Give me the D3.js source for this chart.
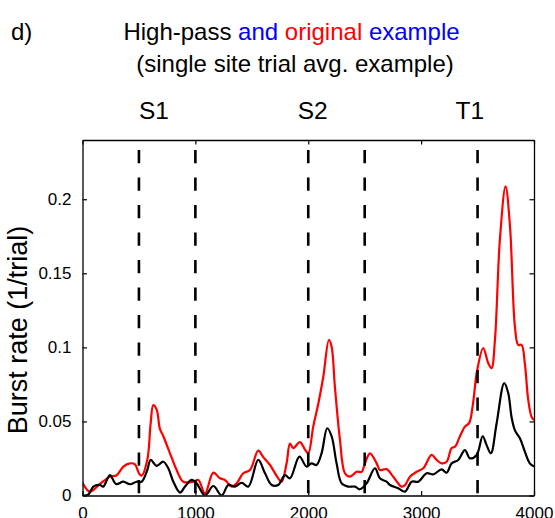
<!DOCTYPE html>
<html><head><meta charset="utf-8">
<script src="https://cdn.jsdelivr.net/npm/d3@7"></script>
<style>
html,body{margin:0;padding:0;background:#fff;}
svg{display:block;font-family:"Liberation Sans",Arial,sans-serif;}
</style></head>
<body>
<svg id="chart" width="555" height="518"></svg>
<script>
// ---- data ----
const originalTime = [0,66,155,243,300,362,420,465,500,524,574,604,627,657,686,716,775,834,893,981,1026,1085,1159,1218,1262,1321,1366,1424,1484,1557,1601,1661,1734,1764,1808,1838,1867,1926,1971,2000,2044,2089,2133,2183,2207,2236,2281,2325,2369,2429,2473,2502,2547,2606,2635,2694,2753,2827,2857,2901,2960,3019,3093,3137,3182,3226,3270,3300,3344,3388,3426,3456,3477,3492,3550,3595,3624,3654,3698,3748,3787,3831,3860,3890,3919,3949,3979,4000];
const originalRate = [0.0086,0.0026,0.0078,0.0127,0.0135,0.0195,0.0217,0.021,0.015,0.0134,0.024,0.0488,0.061,0.058,0.045,0.040,0.0285,0.0172,0.0093,0.0093,0.0105,0.0015,0.0154,0.0116,0.0105,0.006,0.0082,0.015,0.0172,0.0303,0.026,0.0206,0.0116,0.0093,0.0217,0.035,0.032,0.036,0.031,0.0285,0.0465,0.062,0.080,0.105,0.1005,0.0735,0.0375,0.015,0.0127,0.016,0.016,0.0217,0.0285,0.0217,0.0172,0.0178,0.0127,0.006,0.007,0.0127,0.016,0.0184,0.0274,0.024,0.0217,0.0228,0.032,0.033,0.040,0.0465,0.049,0.060,0.0735,0.0826,0.0995,0.0893,0.086,0.105,0.173,0.2087,0.182,0.114,0.1017,0.1017,0.089,0.0645,0.053,0.051];
const highpassTime = [0,50,96,155,184,243,297,362,420,480,524,574,604,657,716,760,805,864,908,967,1011,1085,1159,1233,1292,1351,1410,1469,1557,1617,1676,1734,1794,1838,1922,1985,2029,2073,2118,2168,2207,2251,2296,2355,2414,2458,2517,2591,2635,2694,2724,2797,2857,2916,2975,3049,3108,3182,3226,3270,3329,3388,3432,3492,3545,3580,3618,3669,3736,3772,3801,3831,3875,3919,3963,4000];
const highpassRate = [0.0,0.0005,0.006,0.0071,0.006,0.0138,0.0078,0.0093,0.0076,0.0093,0.0093,0.0172,0.024,0.020,0.0228,0.0184,0.0093,0.002,0.006,0.0105,0.0082,0.0,0.0064,0.0,0.0071,0.006,0.0086,0.006,0.024,0.015,0.0071,0.0071,0.0138,0.0116,0.0262,0.0195,0.0217,0.0206,0.0285,0.0454,0.040,0.0217,0.0082,0.006,0.006,0.0042,0.0082,0.0184,0.0116,0.0093,0.0071,0.0049,0.0026,0.0093,0.0093,0.015,0.0143,0.0177,0.0154,0.0217,0.024,0.0307,0.0251,0.0274,0.040,0.034,0.0285,0.0488,0.0758,0.069,0.053,0.044,0.0386,0.0296,0.0217,0.0195];
const eventLines = [500,1000,2000,2500,3500];
const eventLabels = ["S1","S2","T1"];
const eventLabelTime = [633,2040,3432];
const xTicks = [0,1000,2000,3000,4000];
const xTickLabels = ["0","1000","2000","3000","4000"];
const yTicks = [0,0.05,0.1,0.15,0.2];
const yTickLabels = ["0","0.05","0.1","0.15","0.2"];

// ---- layout ----
const svg = d3.select("#chart");
const L = 82.5, R = 534, T = 140, B = 495.5;
const x = d3.scaleLinear().domain([0,4000]).range([L,R]);
const y = d3.scaleLinear().domain([0,0.24]).range([B,T]);

svg.append("defs").append("clipPath").attr("id","clip")
  .append("rect").attr("x",L).attr("y",T).attr("width",R-L).attr("height",B-T);

// titles
svg.append("text").attr("x",11).attr("y",40).attr("font-size",24).text("d)");
const t1 = svg.append("text").attr("x",291.5).attr("y",40).attr("font-size",24).attr("text-anchor","middle");
t1.append("tspan").attr("fill","#000").text("High-pass ");
t1.append("tspan").attr("fill","#0000ff").text("and ");
t1.append("tspan").attr("fill","#ff0000").text("original ");
t1.append("tspan").attr("fill","#0000ff").text("example");
svg.append("text").attr("x",295).attr("y",72).attr("font-size",24).attr("text-anchor","middle")
  .text("(single site trial avg. example)");

// event labels
svg.selectAll("text.ev").data(eventLabels).enter().append("text").attr("class","ev")
  .attr("x",(d,i)=>x(eventLabelTime[i])).attr("y",118.5).attr("font-size",24.5)
  .attr("text-anchor","middle").text(d=>d);

// y label
svg.append("text").attr("transform",`translate(27,330) rotate(-90)`)
  .attr("font-size",27).attr("text-anchor","middle").text("Burst rate (1/trial)");

// curves
const g = svg.append("g").attr("clip-path","url(#clip)");
const line = d3.line().x(d=>x(d[0])).y(d=>y(d[1])).curve(d3.curveCatmullRom.alpha(0.5));
g.append("path").datum(d3.zip(originalTime, originalRate)).attr("d",line)
  .attr("fill","none").attr("stroke","#ff0000").attr("stroke-width",2.2).attr("stroke-linejoin","round");
g.append("path").datum(d3.zip(highpassTime, highpassRate)).attr("d",line)
  .attr("fill","none").attr("stroke","#000").attr("stroke-width",2.2).attr("stroke-linejoin","round");

// dashed event lines
svg.selectAll("line.ev").data(eventLines).enter().append("line").attr("class","ev")
  .attr("x1",d=>x(d)).attr("x2",d=>x(d)).attr("y1",T).attr("y2",B)
  .attr("stroke","#000").attr("stroke-width",2.6)
  .attr("stroke-dasharray","13.3,14.2").attr("stroke-dashoffset",17.5);

// axes (MATLAB box style, inward ticks)
const tk = 4.5;
const axB = d3.axisBottom(x).tickValues(xTicks).tickFormat((d,i)=>xTickLabels[i]).tickSizeInner(-tk).tickSizeOuter(0).tickPadding(11);
const axT = d3.axisTop(x).tickValues(xTicks).tickFormat("").tickSizeInner(-tk).tickSizeOuter(0);
const axL = d3.axisLeft(y).tickValues(yTicks).tickFormat((d,i)=>yTickLabels[i]).tickSizeInner(-tk).tickSizeOuter(0).tickPadding(11);
const axR = d3.axisRight(y).tickValues(yTicks).tickFormat("").tickSizeInner(-tk).tickSizeOuter(0);
function style(sel){
  sel.select(".domain").attr("stroke","#000").attr("stroke-width",1.3);
  sel.selectAll(".tick line").attr("stroke","#000").attr("stroke-width",1.2);
  sel.selectAll(".tick text").attr("font-size",17).attr("fill","#000").attr("font-family","Liberation Sans, Arial, sans-serif");
}
svg.append("g").attr("transform",`translate(0,${B})`).call(axB).call(style);
svg.append("g").attr("transform",`translate(0,${T})`).call(axT).call(style);
svg.append("g").attr("transform",`translate(${L},0)`).call(axL).call(style);
svg.append("g").attr("transform",`translate(${R},0)`).call(axR).call(style);
</script>
</body></html>
